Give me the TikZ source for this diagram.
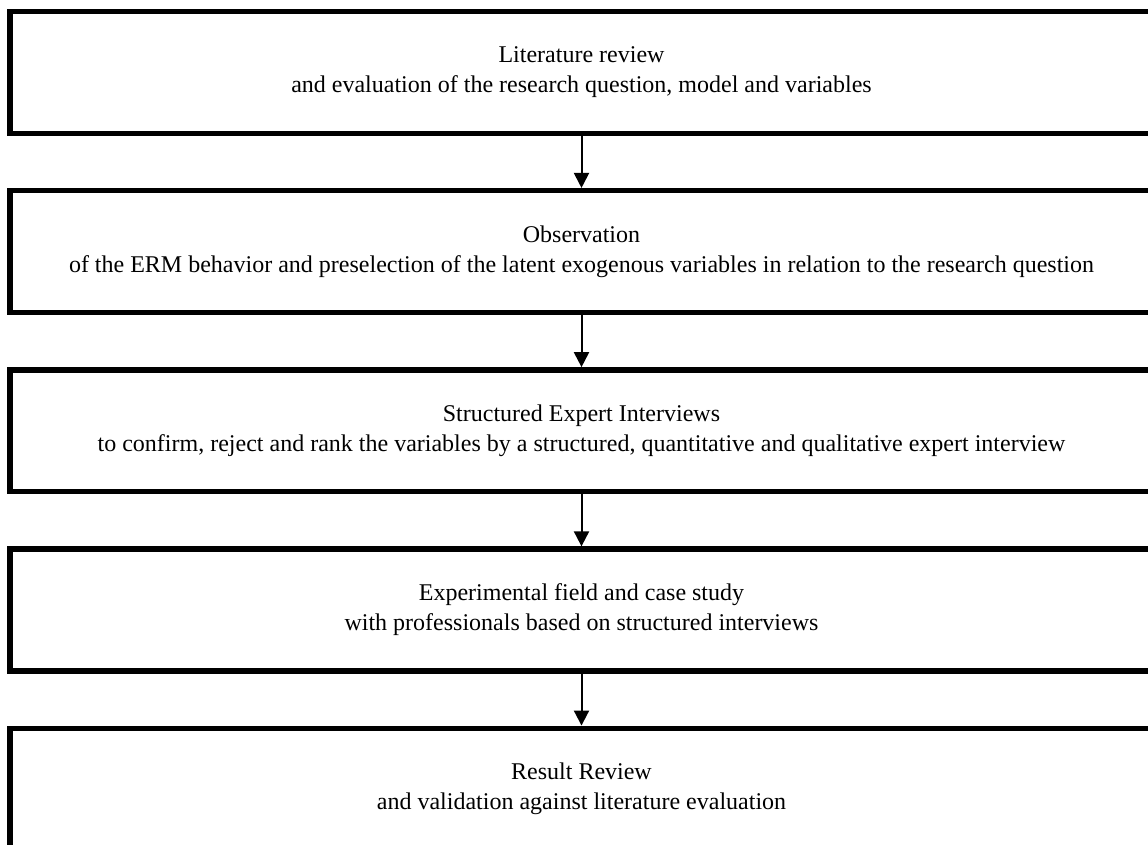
\documentclass[tikz,border=0pt]{standalone}
\usepackage{fontspec}
\setmainfont{Liberation Serif}
\usetikzlibrary{arrows.meta}
\begin{document}
\begin{tikzpicture}[x=1pt,y=-1pt,
  stagebox/.style={draw=black, line width=5.5pt, fill=white,
    minimum width=1143pt, minimum height=121.8pt, inner sep=0pt,
    align=center, font=\fontsize{24pt}{30pt}\selectfont},
  flow/.style={line width=2pt, -{Triangle[width=15pt,length=15pt]}}]
  \useasboundingbox (0,0) rectangle (1148,845);
  \clip (0,0) rectangle (1148,845);
  \fill[white] (0,0) rectangle (1148,845);

  % five stages of the research procedure, stacked top to bottom
  \node[stagebox] (s1) at (581.5,72.4)
    {Literature review\\and evaluation of the research question, model and variables};
  \node[stagebox] (s2) at (581.5,251.6)
    {Observation\\of the ERM behavior and preselection of the latent exogenous variables in relation to the research question};
  \node[stagebox] (s3) at (581.5,430.8)
    {Structured Expert Interviews\\to confirm, reject and rank the variables by a structured, quantitative and qualitative expert interview};
  \node[stagebox] (s4) at (581.5,610.0)
    {Experimental field and case study\\with professionals based on structured interviews};
  \node[stagebox] (s5) at (581.5,789.2)
    {Result Review\\and validation against literature evaluation};

  \draw[flow] (s1.south) -- (s2.north);
  \draw[flow] (s2.south) -- (s3.north);
  \draw[flow] (s3.south) -- (s4.north);
  \draw[flow] (s4.south) -- (s5.north);
\end{tikzpicture}
\end{document}
